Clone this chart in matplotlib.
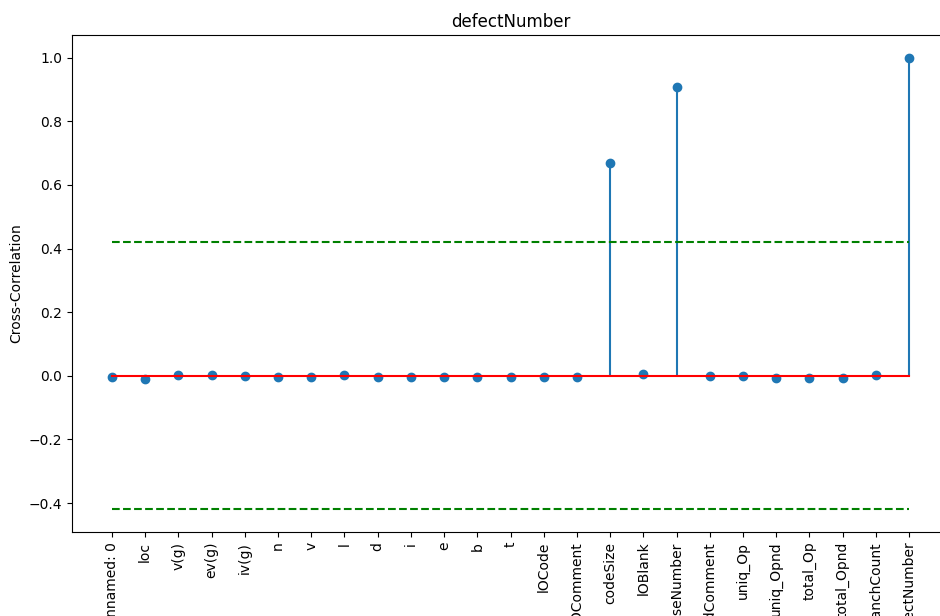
"""
Cross-correlation of each column with defectNumber, drawn as stems.
"""

import matplotlib
matplotlib.use("Agg")
import matplotlib.pyplot as plt
import numpy as np

columns = ["Unnamed: 0", "loc", "v(g)", "ev(g)", "iv(g)", "n", "v", "l", "d",
           "i", "e", "b", "t", "lOCode", "lOComment", "codeSize", "lOBlank",
           "releaseNumber", "locCodeAndComment", "uniq_Op", "uniq_Opnd",
           "total_Op", "total_Opnd", "branchCount", "defectNumber"]
corr = [-0.005, -0.009, 0.003, 0.003, -0.002, -0.004, -0.004, 0.003, -0.005,
        -0.005, -0.005, -0.005, -0.005, -0.005, -0.005, 0.67, 0.005,
        0.908, -0.002, -0.002, -0.006, -0.006, -0.006, 0.003, 1.0]
conf_bound = 0.42


def main():
  fig = plt.figure(figsize=(9.4, 6.16), dpi=100)
  # the reference is a crop: right spine and the label bottoms fall off the image
  ax = fig.add_axes([72 / 940, 84 / 616, 877 / 940, 497 / 616])

  xs = np.arange(len(columns))
  ax.stem(xs, corr, basefmt="r-")
  ax.plot([xs[0], xs[-1]], [conf_bound, conf_bound], "g--")
  ax.plot([xs[0], xs[-1]], [-conf_bound, -conf_bound], "g--")

  ax.set_xticks(xs)
  ax.set_xticklabels(columns, rotation=90)
  ax.set_ylabel("Cross-Correlation")
  ax.set_title("defectNumber")

  fig.savefig("out.png", dpi=100)


if __name__ == "__main__":
  main()
